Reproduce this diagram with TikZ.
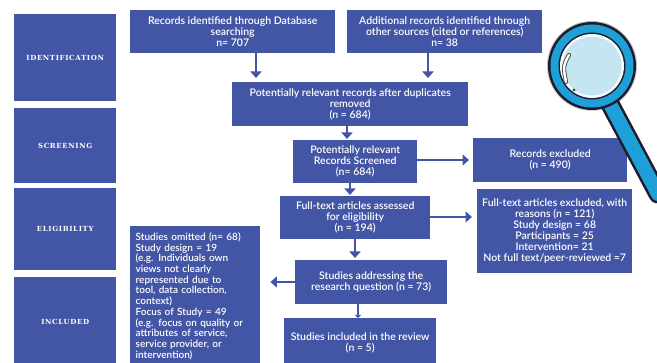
\documentclass[tikz,border=0pt]{standalone}
\usepackage{fontspec}
\setmainfont{Lato}[UprightFont={* Semibold}]
\newfontfamily\stagefont[LetterSpace=9]{DejaVu Serif}
\usetikzlibrary{arrows.meta,calc}
\definecolor{boxblue}{HTML}{4355A5}
\definecolor{lensblue}{HTML}{1E9FD8}
\definecolor{lensglass}{HTML}{C6E5F2}
\definecolor{inkdark}{HTML}{1C1C2C}
\definecolor{shade}{HTML}{383868}
\tikzset{
  box/.style={fill=boxblue, text=white, inner sep=0pt, anchor=north west,
    align=center, font=\fontsize{10.5}{11}\selectfont},
  stage/.style={fill=boxblue, text=white, inner sep=0pt, anchor=north west,
    minimum width=102, font=\stagefont\bfseries\fontsize{7}{8}\selectfont},
  flow/.style={draw=boxblue, line width=2.4pt,
    -{Triangle[width=11pt,length=6.5pt]}},
}
\begin{document}
\begin{tikzpicture}[x=1pt,y=-1pt]
\useasboundingbox (0,0) rectangle (657,363);
\clip (0,0) rectangle (657,363);

% stage column
\node[stage, minimum height=87] (sid) at (14,14) {IDENTIFICATION};
\node[stage, minimum height=75] (ssc) at (14,108) {SCREENING};
\node[stage, minimum height=82] (sel) at (14,188) {ELIGIBILITY};
\node[stage, minimum height=90] (sin) at (14,277) {INCLUDED};

% flow boxes
\node[box, minimum width=205, minimum height=43] (b1) at (130,10)
  {Records identified through Database\\searching\\n= 707};
\node[box, minimum width=195, minimum height=43] (b2) at (347,10)
  {Additional records identified through\\other sources (cited or references)\\n= 38};
\node[box, minimum width=236, minimum height=44] (b3) at (232,82)
  {Potentially relevant records after duplicates\\removed\\(n = 684)};
\node[box, minimum width=124, minimum height=43] (b4) at (293,140)
  {Potentially relevant\\Records Screened\\(n= 684)};
\node[box, minimum width=154, minimum height=44] (ex1) at (473,138)
  {Records excluded\\(n = 490)};
\node[box, minimum width=150, minimum height=43] (b5) at (280,196)
  {Full-text articles assessed\\for eligibility\\(n = 194)};
\node[box, minimum width=155, minimum height=84] (ex2) at (477,189)
  {Full-text articles excluded, with\\reasons (n = 121)\\Study design = 68\\Participants = 25\\Intervention= 21\\Not full text/peer-reviewed =7};
\node[box, minimum width=152, minimum height=44] (b6) at (295,260)
  {Studies addressing the\\research question (n = 73)};
\node[box, minimum width=127, minimum height=140, align=left,
  text width=119, inner xsep=5.5pt, font=\fontsize{10}{10.7}\selectfont] (om) at (130,226)
  {Studies omitted (n= 68)\\Study design = 19\\(e.g. Individuals own\\views not clearly\\represented due to\\tool, data collection,\\context)\\Focus of Study = 49\\(e.g. focus on quality or\\attributes of service,\\service provider, or\\intervention)};
\node[box, minimum width=152, minimum height=50] (b7) at (284,318)
  {Studies included in the review\\(n = 5)};

% connector positions
\coordinate (x1) at (256,0);
\coordinate (x2) at (428,0);
\coordinate (x3) at (347,0);
\coordinate (x4) at (350,0);
\coordinate (x5) at (355,0);
\coordinate (x6) at (358,0);
\coordinate (y1) at (0,160);
\coordinate (y2) at (0,217);
\coordinate (y3) at (0,282);

\draw[flow, shorten >=4pt] (b1.south -| x1) -- (b3.north -| x1);
\draw[flow, shorten >=4pt] (b2.south -| x2) -- (b3.north -| x2);
\draw[flow, shorten >=1pt] (b3.south -| x3) -- (b4.north -| x3);
\draw[flow, shorten >=4pt] (b4.east |- y1) -- (ex1.west |- y1);
\draw[flow, shorten >=1pt] (b4.south -| x4) -- (b5.north -| x4);
\draw[flow, shorten >=5pt] (b5.east |- y2) -- (ex2.west |- y2);
\draw[flow, shorten >=2pt] (b5.south -| x5) -- (b6.north -| x5);
\draw[flow, shorten >=10pt] (b6.west |- y3) -- (om.east |- y3);
\draw[flow, shorten >=0pt, -{Triangle[width=6pt,length=3pt]}] (b6.south -| x6) -- (b7.north -| x6);

% magnifying glass: shadow
\coordinate (lc) at (592,66);
\coordinate (hs) at (610,104);
\coordinate (he) at (658,194);
\begin{scope}[shift={(-9,7)}]
  \fill[shade, opacity=0.22] (lc) circle (45);
  \draw[shade, opacity=0.22, line width=19pt, line cap=round] (hs) -- (he);
\end{scope}
% handle
\draw[inkdark, line width=19pt, line cap=round] (hs) -- (he);
\draw[lensblue, line width=14pt, line cap=round] (hs) -- (he);
% rim and glass
\fill[inkdark] (lc) circle (44);
\fill[lensblue] (lc) circle (41.5);
\fill[inkdark] (lc) circle (33.5);
\fill[white!85!lensglass] (lc) circle (32);
\fill[lensglass] (lc) circle (29.5);
% glint
\draw[gray!60!black, line width=4.2pt, line cap=round] (569,55) .. controls (563,66) .. (566,82);
\draw[white, line width=2.4pt, line cap=round] (569,55) .. controls (563,66) .. (566,82);
\fill[gray!60!black] (574,90) circle (1.6);
\end{tikzpicture}
\end{document}
